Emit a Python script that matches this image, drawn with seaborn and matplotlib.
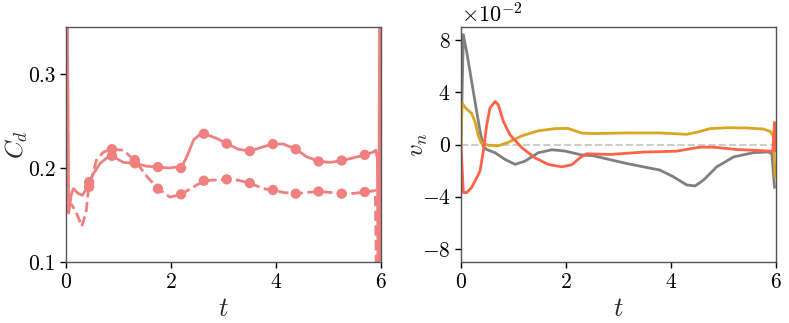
import matplotlib
matplotlib.use('Agg')

import numpy as np
import pandas as pd
import matplotlib.pyplot as plt
import seaborn as sns

# --- left panel: drag coefficient ---
t_solid = [0.0, 0.015, 0.05, 0.1, 0.14, 0.23, 0.31, 0.39, 0.44, 0.52, 0.65, 0.78, 0.87, 1.09,
           1.31, 1.53, 1.75, 1.97, 2.1, 2.19, 2.3, 2.43, 2.55, 2.63, 2.87, 3.06, 3.28, 3.5,
           3.76, 3.94, 4.14, 4.38, 4.58, 4.82, 5.03, 5.26, 5.48, 5.7, 5.85, 5.9, 5.93, 5.95,
           5.98, 6.0]
cd_solid = [0.5, 0.45, 0.152, 0.172, 0.178, 0.173, 0.171, 0.178, 0.184, 0.194, 0.205, 0.211,
            0.213, 0.206, 0.205, 0.202, 0.201, 0.200, 0.201, 0.200, 0.212, 0.230, 0.2357,
            0.2365, 0.2316, 0.226, 0.220, 0.218, 0.2227, 0.2255, 0.2255, 0.220, 0.212, 0.207,
            0.206, 0.208, 0.211, 0.214, 0.217, 0.219, 0.210, 0.0, 0.5, 0.0]

t_dashed = [0.0, 0.02, 0.04, 0.108, 0.2, 0.3, 0.38, 0.425, 0.44, 0.58, 0.71, 0.87, 1.09, 1.31,
            1.54, 1.75, 1.98, 2.19, 2.43, 2.63, 3.06, 3.28, 3.5, 3.76, 3.94, 4.14, 4.38, 4.58,
            4.82, 5.03, 5.26, 5.48, 5.7, 5.89, 5.93]
cd_dashed = [0.5, 0.45, 0.159, 0.161, 0.152, 0.138, 0.152, 0.176, 0.180, 0.2085, 0.217, 0.220,
             0.219, 0.208, 0.191, 0.178, 0.169, 0.172, 0.180, 0.1865, 0.188, 0.187, 0.184,
             0.178, 0.1766, 0.174, 0.1727, 0.174, 0.175, 0.174, 0.1727, 0.173, 0.1745, 0.176,
             0.0]

t_marks = [0.44, 0.875, 1.31, 1.75, 2.19, 2.625, 3.06, 3.5, 3.94, 4.375, 4.81, 5.25, 5.69]
cd_marks_solid = [0.185, 0.213, 0.205, 0.201, 0.200, 0.2365, 0.226, 0.218, 0.2255, 0.220,
                  0.207, 0.208, 0.214]
cd_marks_dashed = [0.180, 0.220, 0.2085, 0.178, 0.172, 0.1865, 0.188, 0.184, 0.1766, 0.1727,
                   0.175, 0.1727, 0.1745]

# --- right panel: normal velocity (units of 1e-2) ---
t_gray = [0.0, 0.044, 0.108, 0.171, 0.235, 0.298, 0.362, 0.425, 0.489, 0.648, 0.838, 1.03,
          1.22, 1.47, 1.73, 1.98, 2.30, 2.52, 3.15, 3.79, 4.04, 4.3, 4.46, 4.62, 4.87, 5.19,
          5.57, 5.85, 5.92, 5.97]
vn_gray = [0.0, 8.43, 7.11, 5.59, 4.06, 2.54, 1.02, -0.13, -0.38, -0.63, -1.14, -1.52, -1.27,
           -0.63, -0.40, -0.50, -0.80, -0.86, -1.45, -1.96, -2.46, -3.1, -3.17, -2.72, -1.71,
           -0.95, -0.62, -0.57, -0.7, -3.3]

t_gold = [0.0, 0.02, 0.076, 0.14, 0.2, 0.27, 0.33, 0.39, 0.52, 0.71, 0.9, 1.16, 1.47, 1.79,
          2.04, 2.17, 2.3, 2.52, 3.15, 3.79, 4.3, 4.49, 4.74, 5.06, 5.44, 5.76, 5.89, 5.95, 5.98]
vn_gold = [0.0, 3.2, 2.86, 2.6, 2.4, 1.7, 0.67, 0.1, -0.05, -0.1, 0.17, 0.67, 1.05, 1.22, 1.24,
           1.05, 0.88, 0.84, 0.89, 0.89, 0.78, 0.94, 1.22, 1.29, 1.27, 1.19, 1.0, 0.6, -2.5]

t_red = [0.0, 0.044, 0.108, 0.2, 0.3, 0.362, 0.425, 0.49, 0.55, 0.648, 0.71, 0.806, 0.93, 1.16,
         1.41, 1.66, 1.92, 2.11, 2.27, 2.39, 2.84, 3.47, 4.1, 4.55, 4.81, 5.25, 5.7, 5.89,
         5.94, 5.97, 6.0]
vn_red = [0.0, -3.68, -3.68, -3.3, -2.54, -2.03, -0.5, 1.52, 2.79, 3.3, 3.05, 1.78, 0.76, -0.25,
          -1.02, -1.52, -1.71, -1.55, -1.0, -0.71, -0.76, -0.58, -0.51, -0.2, -0.2, -0.38,
          -0.46, -0.51, -0.5, 1.7, -0.5]

sns.set_style('white')
plt.rcParams['font.family'] = 'serif'
plt.rcParams['font.serif'] = ['cmr10']
plt.rcParams['mathtext.fontset'] = 'cm'
plt.rcParams['axes.formatter.use_mathtext'] = True
plt.rcParams['axes.unicode_minus'] = True

salmon = '#F08080'

fig = plt.figure(figsize=(7.89, 3.23), dpi=100)
ax1 = fig.add_axes([0.0837, 0.189, 0.3993, 0.727])
ax2 = fig.add_axes([0.5843, 0.189, 0.3993, 0.727])

df_s = pd.DataFrame({'t': t_solid, 'cd': cd_solid})
df_d = pd.DataFrame({'t': t_dashed, 'cd': cd_dashed})
sns.lineplot(data=df_s, x='t', y='cd', ax=ax1, color=salmon, lw=2.0, sort=False)
sns.lineplot(data=df_d, x='t', y='cd', ax=ax1, color=salmon, lw=2.0, ls='--', sort=False)
sns.scatterplot(x=t_marks, y=cd_marks_solid, ax=ax1, color=salmon, s=55, edgecolor='none', zorder=3)
sns.scatterplot(x=t_marks, y=cd_marks_dashed, ax=ax1, color=salmon, s=55, edgecolor='none', zorder=3)
ax1.set_xlim(0, 6)
ax1.set_ylim(0.1, 0.35)
ax1.set_xticks([0, 2, 4, 6])
ax1.set_yticks([0.1, 0.2, 0.3])
ax1.set_yticklabels(['0.1', '0.2', '0.3'])
ax1.set_xlabel('$t$', fontsize=19)
ax1.set_ylabel('$C_d$', fontsize=18)
ax1.yaxis.set_label_coords(-0.115, 0.5)

ax2.axhline(0, color='#cccccc', ls='--', lw=1.4, zorder=1)
for tt, vv, col in [(t_gray, vn_gray, '#808080'), (t_gold, vn_gold, '#DAA520'),
                    (t_red, vn_red, '#FF6347')]:
    sns.lineplot(x=np.array(tt), y=np.array(vv) * 1e-2, ax=ax2, color=col, lw=2.0, sort=False)
ax2.set_xlim(0, 6)
ax2.set_ylim(-0.09, 0.09)
ax2.set_xticks([0, 2, 4, 6])
ax2.set_yticks([-0.08, -0.04, 0, 0.04, 0.08])
ax2.ticklabel_format(axis='y', style='sci', scilimits=(0, 0), useMathText=True)
ax2.yaxis.get_offset_text().set_fontsize(16)
ax2.set_xlabel('$t$', fontsize=19)
ax2.set_ylabel('$v_n$', fontsize=18)
ax2.yaxis.set_label_coords(-0.10, 0.5)

for ax in (ax1, ax2):
    ax.tick_params(axis='both', labelsize=15.5, length=4, width=1, direction='out',
                   left=True, bottom=True, colors='black')
    for sp in ax.spines.values():
        sp.set_color('#555555')
        sp.set_linewidth(1.0)

fig.savefig('out.png', dpi=100)
